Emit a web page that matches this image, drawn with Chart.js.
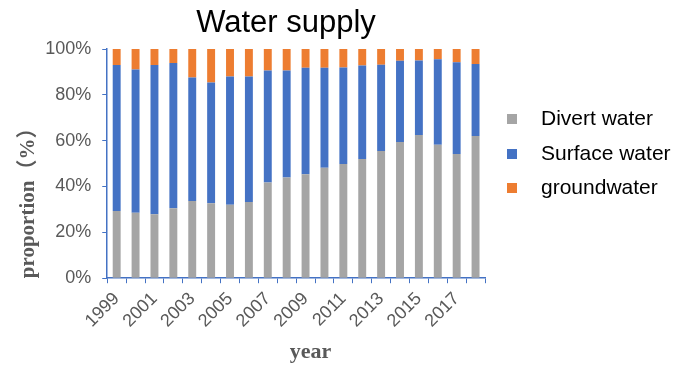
<!DOCTYPE html>
<html>
<head>
<meta charset="utf-8">
<script src="https://cdn.jsdelivr.net/npm/chart.js@4/dist/chart.umd.min.js"></script>
<style>
  html, body { margin: 0; padding: 0; background: #ffffff; }
  #wrap { width: 675px; height: 365px; }
</style>
</head>
<body>
<div id="wrap"><canvas id="chart" width="675" height="365"></canvas></div>
<script>
// Share of each water source in total supply, percent per year
const years = ['1999', '2000', '2001', '2002', '2003', '2004', '2005', '2006', '2007', '2008',
               '2009', '2010', '2011', '2012', '2013', '2014', '2015', '2016', '2017', '2018'];
const divertWater  = [29.3, 28.6, 27.9, 30.5, 33.7, 32.7, 32.0, 33.3, 41.8, 43.9,
                      45.4, 48.2, 49.8, 52.0, 55.5, 59.4, 62.5, 58.2, 54.2, 62.0];
const surfaceWater = [63.7, 62.5, 65.1, 63.4, 53.9, 52.7, 56.0, 54.7, 48.8, 46.7,
                      46.4, 43.6, 42.1, 40.8, 37.6, 35.5, 32.5, 37.3, 40.0, 31.5];
const groundwater  = [7.0, 8.9, 7.0, 6.1, 12.4, 14.6, 12.0, 12.0, 9.4, 9.4,
                      8.2, 8.2, 8.1, 7.2, 6.9, 5.1, 5.0, 4.5, 5.8, 6.5];
const yearTickLabels = ['1999', '2001', '2003', '2005', '2007', '2009', '2011', '2013', '2015', '2017'];
const seriesNames = ['Divert water', 'Surface water', 'groundwater'];
const seriesColors = ['#A5A5A5', '#4472C4', '#ED7D31'];

const AXIS_BLUE = '#4472C4';
const TEXT_GREY = '#595959';
const SERIF_FAMILY = '"Liberation Serif", "Noto Sans CJK SC", serif';

// small square legend swatch, drawn on the left part of a slightly wider canvas
function swatch(color) {
  const c = document.createElement('canvas');
  c.width = 15; c.height = 10;
  const g = c.getContext('2d');
  g.fillStyle = color;
  g.fillRect(0, 0, 10, 10);
  return c;
}
const swatches = seriesColors.map(swatch);

// chart title and horizontal-axis caption, placed freely on the canvas
const captions = {
  id: 'captions',
  afterDraw(chart, args, opts) {
    const ctx = chart.ctx;
    opts.items.forEach(c => {
      ctx.save();
      ctx.font = c.font;
      ctx.fillStyle = c.color;
      ctx.textAlign = 'center';
      ctx.textBaseline = 'alphabetic';
      ctx.fillText(c.text, c.x, c.y);
      ctx.restore();
    });
  }
};

const seriesData = [divertWater, surfaceWater, groundwater];

new Chart(document.getElementById('chart'), {
  type: 'bar',
  plugins: [captions],
  data: {
    labels: years,
    datasets: seriesNames.map((name, i) => ({
      label: name,
      data: seriesData[i],
      backgroundColor: seriesColors[i],
      borderWidth: 0,
      barPercentage: 0.42,
      categoryPercentage: 1.0
    }))
  },
  options: {
    responsive: false,
    animation: false,
    devicePixelRatio: 1,
    layout: { padding: { top: 49, left: 0, right: 0, bottom: 28.2 } },
    plugins: {
      tooltip: { enabled: false },
      title: { display: false },
      captions: {
        items: [
          { text: 'Water supply', x: 286, y: 32, color: '#000000', font: '31px "Liberation Sans"' },
          { text: 'year', x: 310.5, y: 357.5, color: TEXT_GREY, font: 'bold 22px ' + SERIF_FAMILY }
        ]
      },
      legend: {
        position: 'right',
        fullSize: false,
        align: 'start',
        maxWidth: 190,
        title: { display: true, text: '', padding: { top: 32, bottom: 0 } },
        labels: {
          usePointStyle: true,
          pointStyleWidth: 32,
          boxHeight: 10,
          padding: 13.5,
          color: '#000000',
          font: { family: 'Liberation Sans', size: 21 },
          generateLabels(chart) {
            const items = Chart.defaults.plugins.legend.labels.generateLabels(chart);
            items.forEach((item, i) => { item.pointStyle = swatches[i]; });
            return items;
          }
        }
      }
    },
    scales: {
      x: {
        stacked: true,
        grid: { drawOnChartArea: false, offset: true, color: AXIS_BLUE, tickLength: 5 },
        border: { color: AXIS_BLUE, width: 1.5 },
        ticks: {
          autoSkip: false,
          minRotation: 45,
          maxRotation: 45,
          padding: 5,
          color: TEXT_GREY,
          font: { family: 'Liberation Sans', size: 18 },
          callback(value) {
            const label = this.getLabelForValue(value);
            return yearTickLabels.includes(label) ? label : '';
          }
        }
      },
      y: {
        stacked: true,
        min: 0,
        max: 100,
        grid: { drawOnChartArea: false, color: AXIS_BLUE, tickLength: 5 },
        border: { color: AXIS_BLUE, width: 1.5 },
        ticks: {
          stepSize: 20,
          padding: 11,
          color: TEXT_GREY,
          font: { family: 'Liberation Sans', size: 18 },
          callback: v => v + '%'
        },
        title: {
          display: true,
          text: 'proportion（%）',
          align: 'start',
          color: TEXT_GREY,
          font: { family: SERIF_FAMILY, size: 21, weight: 'bold' },
          padding: { top: 16, bottom: -7 }
        }
      }
    }
  }
});
</script>
</body>
</html>
